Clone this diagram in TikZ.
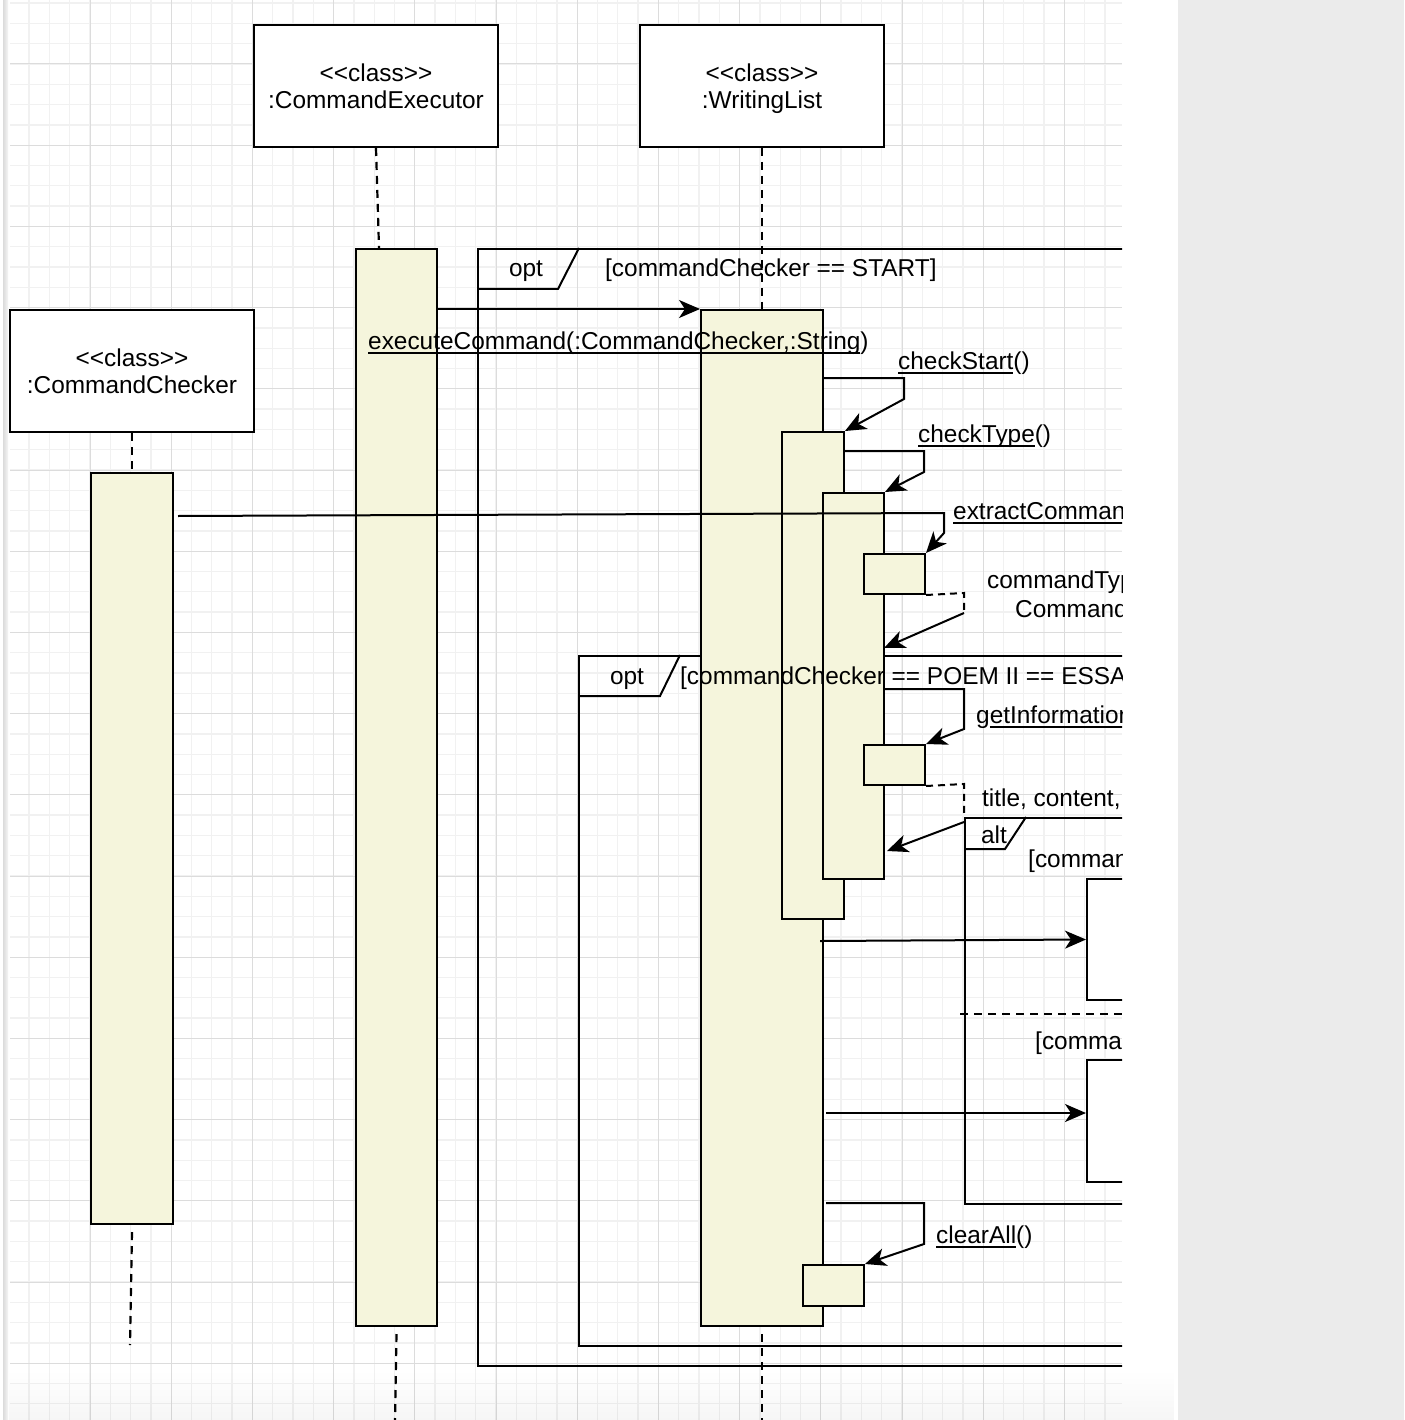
\documentclass[tikz,border=0pt]{standalone}
\usepackage{fontspec}
\setmainfont{Liberation Sans}[Ligatures=TeXOff]
\usetikzlibrary{arrows.meta,fadings}
\definecolor{actfill}{HTML}{F5F5DC}
\definecolor{panelgray}{HTML}{EBEBEB}
\definecolor{gridminor}{HTML}{F1F1F1}
\definecolor{gridmajor}{HTML}{DCDCDC}
\newsavebox\ulbox
\newcommand\ulin[1]{\sbox\ulbox{#1}\rlap{\vrule width\wd\ulbox height -2.5pt depth 4.5pt}\usebox\ulbox}

\begin{document}
\begin{tikzpicture}[x=1pt,y=-1pt,
  every node/.style={font=\fontsize{24.4}{27}\selectfont},
  head/.style={draw, fill=white, line width=2pt, minimum width=244pt, minimum height=122pt,
    inner sep=0pt, align=center, anchor=north west},
  act/.style={draw, fill=actfill, line width=2pt, inner sep=0pt, anchor=north west},
  frm/.style={draw, line width=2pt, inner sep=0pt, anchor=north west},
  life/.style={line width=2.2pt, dash pattern=on 8pt off 6pt},
  ret/.style={line width=2pt, dash pattern=on 7pt off 5pt},
  msg/.style={line width=2pt, -{Stealth[length=21pt,width=18pt,inset=6pt]}},
  edge/.style={line width=2pt},
  lbl/.style={inner sep=0pt, anchor=base west},
  ctr/.style={inner sep=0pt, anchor=base},
]
\useasboundingbox (0,0) rectangle (1404,1420);

% page and side panel
\fill[white] (0,0) rectangle (1404,1420);
\fill[panelgray] (1178,0) rectangle (1404,1420);
\shade[left color=gray!28, right color=gray!8] (3,0) rectangle (8,1420);

% canvas grid
\foreach \i in {1,...,54} {
  \draw[gridminor, line width=1.3pt] ({8.8+20.3*\i},0) -- ({8.8+20.3*\i},1420);
}
\foreach \j in {0,...,69} {
  \draw[gridminor, line width=1.3pt] (10,{3.1+20.3*\j}) -- (1122,{3.1+20.3*\j});
}
\foreach \k in {0,...,12} {
  \draw[gridmajor, line width=1pt] ({90+81.2*\k},0) -- ({90+81.2*\k},1420);
}
\foreach \k in {0,...,16} {
  \draw[gridmajor, line width=1pt] (10,{64+81.2*\k}) -- (1122,{64+81.2*\k});
}
\fill[black, fill opacity=0.035, path fading=north] (10,1370) rectangle (1178,1420);

\begin{scope}
\clip (0,0) rectangle (1122,1420);

% participants
\node[head] (exec) at (253,24) {<<class>>\\:CommandExecutor};
\node[head] (wl) at (639,24) {<<class>>\\:Writin\smash{g}List};
\node[head] (chk) at (9,309) {<<class>>\\:CommandChecker};

% combined fragments
\node[frm, minimum width=760pt, minimum height=1117pt] (opt1) at (477,248) {};
\draw[edge] (579,248) -- (558,289) -- (477,289);
\node[frm, minimum width=700pt, minimum height=690pt] (opt2) at (578,655) {};
\draw[edge] (680,655) -- (660,696) -- (578,696);
\node[frm, minimum width=400pt, minimum height=386pt] (alt) at (964,817) {};
\draw[edge] (1026,817) -- (1005,849) -- (964,849);
\coordinate (sepL) at (960,1014);
\coordinate (sepR) at (1122,1014);
\draw[life, line width=2pt] (sepL) -- (sepR);

% activation bars
\node[act, minimum width=81pt, minimum height=1077pt] (A1) at (355,248) {};
\node[act, minimum width=82pt, minimum height=751pt] (A8) at (90,472) {};
\node[act, minimum width=122pt, minimum height=1016pt] (A2) at (700,309) {};
\node[act, minimum width=62pt, minimum height=487pt] (A3) at (781,431) {};
\node[act, minimum width=61pt, minimum height=386pt] (A4) at (822,492) {};
\node[act, minimum width=61pt, minimum height=40pt] (A5) at (863,553) {};
\node[act, minimum width=61pt, minimum height=40pt] (A6) at (863,744) {};
\node[act, minimum width=61pt, minimum height=41pt] (A7) at (802,1264) {};

% lifelines
\draw[life] (exec.south) -- ([xshift=-17.5pt]A1.north);
\coordinate (execEnd) at (395,1420);
\draw[life] ([yshift=-7pt]A1.south) -- (execEnd);
\draw[life] (wl.south) -- (A2.north);
\coordinate (wlEnd) at (762,1420);
\draw[life] ([yshift=-7pt]A2.south) -- (wlEnd);
\draw[life] (chk.south) -- (A8.north);
\coordinate (chkEnd) at (130,1345);
\draw[life] ([yshift=-7pt]A8.south) -- (chkEnd);

% created objects inside alt
\node[frm, fill=white, minimum width=200pt, minimum height=121pt] (box1) at (1086,878) {};
\node[frm, fill=white, minimum width=200pt, minimum height=122pt] (box2) at (1086,1059) {};

% messages
\draw[msg] (A1.east |- A2.north) -- (A2.north west);

\coordinate (csA) at (904,378);
\coordinate (csB) at (904,399);
\draw[msg] (A2.east |- csA) -- (csA) -- (csB) -- (A3.north east);

\coordinate (ctA) at (924,451);
\coordinate (ctB) at (924,472);
\draw[msg] (A3.east |- ctA) -- (ctA) -- (ctB) -- (A4.north east);

\coordinate (exS) at (178,516);
\coordinate (exA) at (944,513);
\coordinate (exB) at (944,533);
\draw[msg] (exS) -- (exA) -- (exB) -- (A5.north east);

\coordinate (r1A) at (964,593);
\coordinate (r1B) at (964,613);
\coordinate (r1E) at (884,648);
\draw[ret] (A5.south east) -- (r1A) -- (r1B);
\draw[msg] (r1B) -- (r1E);

\coordinate (giA) at (964,689);
\coordinate (giB) at (964,729);
\draw[msg] (A4.east |- giA) -- (giA) -- (giB) -- (A6.north east);

\coordinate (r2A) at (964,784);
\coordinate (r2B) at (964,817);
\coordinate (r2C) at (964,822);
\coordinate (r2E) at (887,851);
\draw[ret] (A6.south east) -- (r2A) -- (r2B);
\draw[msg] (r2C) -- (r2E);

\coordinate (m1S) at (820,941);
\draw[msg] (m1S) -- (box1.west);
\coordinate (m2S) at (826,1113);
\draw[msg] (m2S) -- (box2.west |- m2S);

\coordinate (caS) at (826,1203);
\coordinate (caA) at (924,1203);
\coordinate (caB) at (924,1244);
\draw[msg] (caS) -- (caA) -- (caB) -- (A7.north east);

% labels
\node[ctr] (tOpt1) at (526,277) {opt};
\node[lbl] (tG1) at (605,277) {[commandChecker == START]};
\node[lbl] (tExe) at (368,349) {\ulin{executeCommand(:CommandChecker,:String})};
\node[lbl] (tCS) at (898,369) {\ulin{checkStart}()};
\node[lbl] (tCT) at (918,442) {\ulin{checkType}()};
\node[lbl] (tEx) at (953,519) {\ulin{extractComman}};
\node[lbl] (tR1a) at (987,588) {commandTyp};
\node[lbl] (tR1b) at (1015,617) {Command};
\node[ctr] (tOpt2) at (627,684) {opt};
\node[lbl] (tG2) at (680,684) {[commandChecker == POEM II == ESSAY};
\node[lbl] (tGI) at (976,723) {g\ulin{etInformation}};
\node[lbl] (tR2) at (982,806) {title, content,};
\node[ctr] (tAlt) at (994,843) {alt};
\node[lbl] (tG3) at (1028,867) {[comman};
\node[lbl] (tG4) at (1035,1049) {[comman};
\node[lbl] (tCA) at (936,1243) {\ulin{clearAll}()};
\end{scope}
\end{tikzpicture}
\end{document}
